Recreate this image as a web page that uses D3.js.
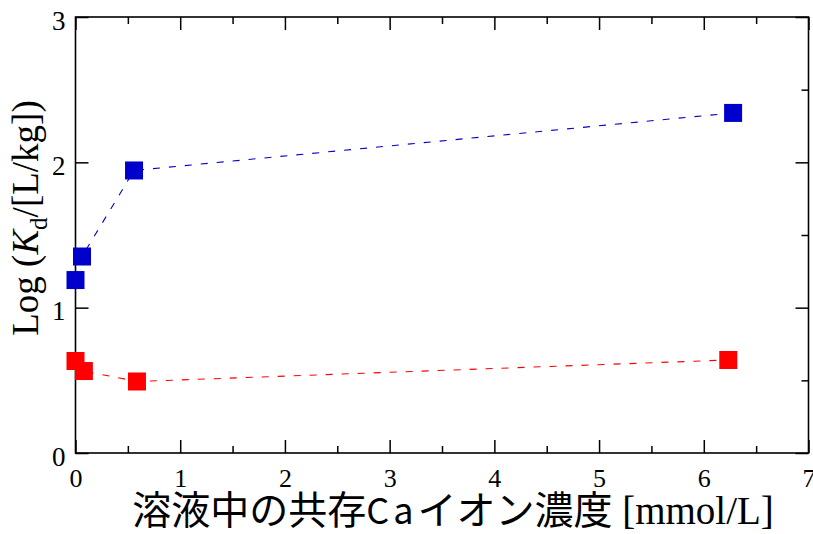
<!DOCTYPE html>
<html>
<head>
<meta charset="utf-8">
<script src="https://cdn.jsdelivr.net/npm/d3@7/dist/d3.min.js"></script>
<style>
  html, body { margin: 0; padding: 0; background: #fff; }
  svg { display: block; }
</style>
</head>
<body>
<svg id="chart" width="813" height="534"></svg>
<script>
// Ca concentration in solution [mmol/L] and Log Kd [L/kg] for each series
const caBlue = [0.0, 0.062, 0.559, 6.28];
const logKdBlue = [1.19, 1.352, 1.944, 2.34];
const caRed = [0.0, 0.08, 0.587, 6.234];
const logKdRed = [0.633, 0.564, 0.492, 0.64];

const xTicks = [0, 1, 2, 3, 4, 5, 6, 7];
const xMinorTicks = [0.5, 1.5, 2.5, 3.5, 4.5, 5.5, 6.5];
const yTicks = [0, 1, 2, 3];
const yMinorTicks = [0.5, 1.5, 2.5];

const colorBlue = "#0000cc";
const colorRed = "#ff0000";

const plot = { left: 75.5, right: 808.5, top: 17, bottom: 453 };

const svg = d3.select("#chart");

const x = d3.scaleLinear().domain([0, 7]).range([plot.left, plot.right]);
const y = d3.scaleLinear().domain([0, 3]).range([plot.bottom, plot.top]);

const MAJOR = 13, MINOR = 7;
const SERIF = "'Liberation Serif', 'Times New Roman', serif";

function styleAxis(g) {
  g.select(".domain").remove();
  g.selectAll(".tick line").attr("stroke", "#000").attr("stroke-width", 1.5);
}

// bottom axis: labelled majors + minors
svg.append("g")
  .attr("transform", `translate(0,${plot.bottom})`)
  .call(d3.axisBottom(x).tickValues(xTicks).tickSize(-MAJOR).tickFormat(d3.format("d")))
  .call(styleAxis)
  .call(g => g.selectAll("text")
    .attr("y", 34).attr("dy", 0)
    .attr("font-family", SERIF)
    .attr("font-size", 26).attr("fill", "#000"));
svg.append("g")
  .attr("transform", `translate(0,${plot.bottom})`)
  .call(d3.axisBottom(x).tickValues(xMinorTicks).tickSize(-MINOR).tickFormat(""))
  .call(styleAxis);

// top axis: ticks only
svg.append("g")
  .attr("transform", `translate(0,${plot.top})`)
  .call(d3.axisTop(x).tickValues(xTicks).tickSize(-MAJOR).tickFormat(""))
  .call(styleAxis);
svg.append("g")
  .attr("transform", `translate(0,${plot.top})`)
  .call(d3.axisTop(x).tickValues(xMinorTicks).tickSize(-MINOR).tickFormat(""))
  .call(styleAxis);

// left axis: labelled majors
svg.append("g")
  .attr("transform", `translate(${plot.left},0)`)
  .call(d3.axisLeft(y).tickValues(yTicks).tickSize(-MAJOR).tickPadding(10).tickFormat(d3.format("d")))
  .call(styleAxis)
  .call(g => g.selectAll("text")
    .attr("font-family", SERIF)
    .attr("font-size", 27).attr("fill", "#000").attr("dy", 12));

// right axis: ticks only
svg.append("g")
  .attr("transform", `translate(${plot.right},0)`)
  .call(d3.axisRight(y).tickValues(yTicks).tickSize(-MAJOR).tickFormat(""))
  .call(styleAxis);
svg.append("g")
  .attr("transform", `translate(${plot.right},0)`)
  .call(d3.axisRight(y).tickValues(yMinorTicks).tickSize(-MINOR).tickFormat(""))
  .call(styleAxis);

// frame
svg.append("rect")
  .attr("x", plot.left).attr("y", plot.top)
  .attr("width", plot.right - plot.left).attr("height", plot.bottom - plot.top)
  .attr("fill", "none").attr("stroke", "#000").attr("stroke-width", 1.6);

// series: dashed connecting line with filled square markers
function drawSeries(xs, ys, color) {
  const pts = xs.map((v, i) => [v, ys[i]]);
  const line = d3.line().x(d => x(d[0])).y(d => y(d[1]));
  svg.append("path")
    .datum(pts)
    .attr("d", line)
    .attr("fill", "none")
    .attr("stroke", color)
    .attr("stroke-width", 1.1)
    .attr("stroke-dasharray", "7,9");
  const S = 18;
  svg.append("g").selectAll("rect")
    .data(pts)
    .join("rect")
    .attr("x", d => x(d[0]) - S / 2)
    .attr("y", d => y(d[1]) - S / 2)
    .attr("width", S).attr("height", S)
    .attr("fill", color);
}
drawSeries(caBlue, logKdBlue, colorBlue);
drawSeries(caRed, logKdRed, colorRed);

// y-axis title
const yTitle = svg.append("text")
  .attr("transform", "translate(38,218) rotate(-90)")
  .attr("text-anchor", "middle")
  .attr("font-family", SERIF)
  .attr("font-size", 37)
  .attr("fill", "#000");
yTitle.append("tspan").text("Log (");
yTitle.append("tspan").attr("font-style", "italic").text("K");
yTitle.append("tspan").attr("font-size", 25).attr("dy", 9).text("d");
yTitle.append("tspan").attr("dy", -9).text("/[L/kg])");

// x-axis title
const CJK = "'Noto Sans CJK JP', sans-serif";
const xTitle = svg.append("text")
  .attr("x", 453).attr("y", 524)
  .attr("text-anchor", "middle")
  .attr("fill", "#000");
xTitle.append("tspan").attr("font-family", CJK).attr("font-size", 39).text("溶液中の共存");
xTitle.append("tspan").attr("font-family", CJK).attr("font-size", 36)
  .attr("letter-spacing", 4).text("Ca");
xTitle.append("tspan").attr("font-family", CJK).attr("font-size", 39).text("イオン濃度");
xTitle.append("tspan").attr("font-family", SERIF).attr("font-size", 39).text(" [mmol/L]");
</script>
</body>
</html>
